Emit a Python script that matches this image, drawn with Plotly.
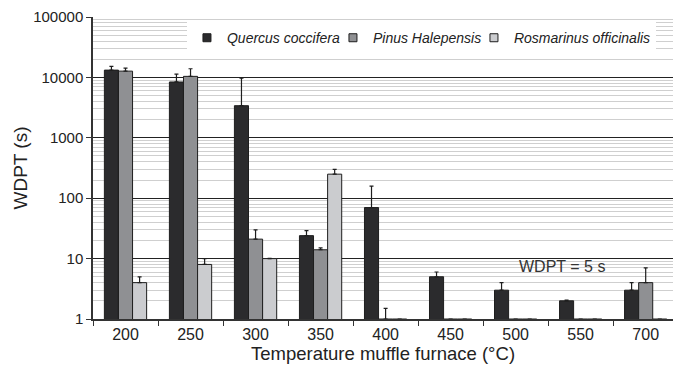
import math
import plotly.graph_objects as go

# Muffle furnace temperatures (°C)
temperatures = ["200", "250", "300", "350", "400", "450", "500", "550", "700"]

# Mean WDPT (s) and upper error per species
quercus = [13200, 8400, 3400, 24, 70, 5, 3, 2, 3]
quercus_err = [2000, 2900, 6300, 5, 88, 1, 1, 0.05, 1]

pinus = [12700, 10400, 21, 14, 1, 1, 1, 1, 4]
pinus_err = [1500, 3500, 9, 1, 0.5, 0, 0, 0, 3]

rosmarinus = [4, 8, 10, 250, 1, 1, 1, 1, 1]
rosmarinus_err = [1, 2, 0.1, 50, 0, 0, 0, 0, 0]

threshold = 5  # WDPT = 5 s

FONT = "Liberation Sans, Arial, Helvetica, sans-serif"
series = [
    ("Quercus coccifera", quercus, quercus_err, "#2b2b2d", 101),
    ("Pinus Halepensis", pinus, pinus_err, "#8f9093", 96),
    ("Rosmarinus officinalis", rosmarinus, rosmarinus_err, "#cbcccf", None),
]

fig = go.Figure()
for name, vals, errs, color, lw in series:
    fig.add_trace(go.Bar(
        x=temperatures,
        y=vals,
        name=name,
        legendgroup=name,
        showlegend=False,
        marker=dict(color=color, line=dict(color="#1e1e1e", width=1)),
        error_y=dict(type="data", array=errs, arrayminus=[0] * len(errs),
                     symmetric=False, color="#1e1e1e", thickness=1.2, width=2),
    ))
    # small square swatch for the legend entry
    fig.add_trace(go.Scatter(
        x=[None], y=[None], mode="markers",
        name=f"<i>{name}</i>",
        legendgroup=name,
        legendwidth=lw,
        marker=dict(symbol="square", size=8, color=color,
                    line=dict(color="#1e1e1e", width=1)),
    ))

# Threshold line
fig.add_shape(type="line", xref="paper", x0=0, x1=1,
              yref="y", y0=math.log10(threshold), y1=math.log10(threshold),
              line=dict(color="#8a8a8a", width=1.5, dash="dash"), layer="above")
fig.add_annotation(text=f"WDPT = {threshold} s", xref="x", x=6.72,
                   yref="y", y=math.log10(threshold), yanchor="bottom",
                   showarrow=False, font=dict(family=FONT, size=16, color="#333"))

fig.update_layout(
    width=673, height=371,
    margin=dict(l=93, r=0, t=17, b=52),
    paper_bgcolor="white", plot_bgcolor="white",
    barmode="group", bargap=0.35, bargroupgap=0,
    font=dict(family=FONT, size=15, color="#222"),
    showlegend=True,
    legend=dict(orientation="h", x=0.162, xanchor="left", y=0.93, yanchor="middle",
                bgcolor="white", font=dict(family=FONT, size=14, color="#222"),
                itemwidth=30, tracegroupgap=0),
    xaxis=dict(
        type="category",
        title=dict(text="Temperature muffle furnace (°C)", font=dict(size=18.5), standoff=4),
        tickfont=dict(size=16),
        showline=True, linecolor="#333", linewidth=1.5,
        ticks="outside", tickson="boundaries", ticklen=5, tickcolor="#333",
        showgrid=False, range=[-0.5, 8.42],
    ),
    yaxis=dict(
        type="log", range=[0, 5],
        title=dict(text="WDPT (s)", font=dict(size=19), standoff=1),
        tickvals=[1, 10, 100, 1000, 10000, 100000],
        ticktext=["1", "10", "100", "1000", "10000", "100000"],
        showline=True, linecolor="#333", linewidth=1.5,
        ticks="outside", ticklen=5, tickcolor="#333",
        showgrid=True, gridcolor="#222", gridwidth=1,
        minor=dict(dtick="D1", showgrid=True, gridcolor="#cfcfcf", gridwidth=1),
        zeroline=False,
    ),
)

fig.write_html("out.html")
